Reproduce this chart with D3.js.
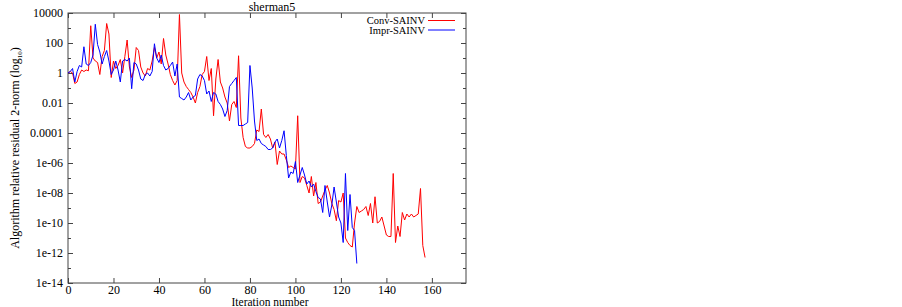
<!DOCTYPE html>
<html>
<head>
<meta charset="utf-8">
<script src="https://cdn.jsdelivr.net/npm/d3@7"></script>
<style>
  body { margin: 0; background: #fff; }
</style>
</head>
<body>
<svg width="902" height="307"></svg>
<script>
// log10 of residual, one value per iteration
const convLog = [
  0, 0.1, 0.0, -0.7, -0.6, -0.1, 0.2, 0.1, 0.2, 0.15,
  3.15, 1.0, 0.8, 0.7, -0.1, 1.1, 1.5, 3.3, 2.6, -0.3,
  0.8, 0.3, 0.5, 0.9, 0.0, 1.1, 2.2, 0.4, -0.3, 0.2,
  1.7, 1.5, 0.4, 0.0, -0.2, 0.3, 0.2, 0.8, 1.7, 1.0,
  1.4, 0.6, 2.3, 1.2, 0.6, -0.1, -0.5, -0.8, -0.5, 3.9,
  0.0, -0.6, -0.9, -1.1, -1.3, -1.6, -2.0, -1.3, -0.9, -0.1,
  0.1, 1.1, -0.5, 0.3, -2.85, -0.4, 0.9, -0.6, -1.0, -1.6,
  -2.0, -3.2, -2.1, -1.9, -2.3, 1.15, -3.0, -4.3, -4.9, -5.0,
  -5.0, -4.9, -4.7, -3.8, -3.9, -2.4, -4.1, -4.3, -4.1, -4.4,
  -5.0, -4.6, -6.1, -5.2, -5.4, -5.4, -5.8, -6.3, -6.2, -6.3,
  -6.4, -2.85, -7.3, -6.9, -7.0, -7.5, -8.0, -6.9, -8.2, -7.3,
  -8.7, -8.6, -8.2, -7.8, -7.5, -8.0, -8.7, -9.1, -9.85, -8.5,
  -8.6, -8.0, -11.0, -11.3, -11.5, -11.6, -10.0, -8.9, -9.3, -9.2,
  -9.1, -8.9, -9.5, -8.7, -10.0, -8.25, -10.0, -9.9, -9.6, -10.2,
  -10.8, -10.9, -10.9, -6.7, -11.3, -10.2, -10.9, -9.3, -9.8, -9.4,
  -9.6, -9.4, -9.6, -9.5, -9.4, -7.7, -11.5, -12.3
];
const imprLog = [
  0, 0.1, 0.3, -0.6, 0.1, 0.5, 0.4, 1.75, 0.6, 0.5,
  0.7, 1.2, 3.25, 1.9, 1.4, 0.6, 1.1, 1.5, 0.8, -0.1,
  0.2, 0.8, 0.2, -0.6, 0.8, 0.9, 0.8, 1.0, -1.05, 0.7,
  0.6, 0.2, -0.4, -0.5, -0.1, 0.0, -0.2, 0.1, 1.95, 1.0,
  0.7, 1.2, 0.5, 0.2, 0.3, 0.5, 0.73, -0.2, 0.6, -1.6,
  -1.7, -1.8, -1.6, -1.3, -1.8, -1.6, -1.5, -0.4, -0.1, -0.2,
  -0.5, -1.4, -1.2, -1.9, -1.3, -1.4, -1.9, -2.1, -2.4, -2.9,
  -2.5, -0.9, -0.7, -0.5, -0.3, -3.5, -3.5, -3.5, -3.4, -3.3,
  0.5, -1.0, -3.2, -4.5, -4.4, -4.7, -4.8, -4.9, -5.1, -5.1,
  -5.0, -4.6, -4.4, -5.0, -4.5, -3.85, -5.5, -7.0, -6.6, -6.7,
  -5.9, -7.3, -6.8, -6.3, -6.8, -7.4, -7.2, -7.6, -7.4, -7.9,
  -8.3, -8.4, -9.3, -7.5, -8.6, -9.6, -8.8, -7.6, -8.6, -9.6,
  -10.0, -11.3, -6.7, -10.5, -8.1, -10.3, -10.5, -12.7
];
const seriesNames = ["Conv-SAINV", "Impr-SAINV"];
const seriesColors = ["#ff0000", "#0000ff"];
const xTicks = [0, 20, 40, 60, 80, 100, 120, 140, 160];
const yTicks = [1e4, 1e2, 1, 1e-2, 1e-4, 1e-6, 1e-8, 1e-10, 1e-12, 1e-14];
const yTickLabels = ["10000", "100", "1", "0.01", "0.0001", "1e-06", "1e-08", "1e-10", "1e-12", "1e-14"];
const yMinorTicks = [1e3, 1e1, 1e-1, 1e-3, 1e-5, 1e-7, 1e-9, 1e-11, 1e-13];

const svg = d3.select("svg");
const mLeft = 68, mRight = 466, mTop = 13, mBottom = 283;
const serif = "'Liberation Serif', 'DejaVu Serif', serif";

const x = d3.scaleLinear().domain([0, 175]).range([mLeft, mRight]);
const y = d3.scaleLog().domain([1e-14, 1e4]).range([mBottom, mTop]);

// axes, gnuplot style: ticks inward, mirrored
const axisColor = "#444";
function styleAxis(g) {
  g.select(".domain").remove();
  g.selectAll("line").attr("stroke", axisColor);
  g.selectAll("text").attr("font-size", 12);
}
svg.append("g").attr("transform", `translate(0,${mBottom})`)
  .call(d3.axisBottom(x).tickValues(xTicks).tickSize(-5).tickPadding(2).tickFormat(d3.format("d")))
  .call(styleAxis);
svg.append("g").attr("transform", `translate(0,${mTop})`)
  .call(d3.axisTop(x).tickValues(xTicks).tickSize(-5).tickFormat(""))
  .call(styleAxis);
svg.append("g").attr("transform", `translate(${mLeft},0)`)
  .call(d3.axisLeft(y).tickValues(yTicks).tickSize(-5).tickPadding(5).tickFormat((d, i) => yTickLabels[i]))
  .call(styleAxis);
svg.append("g").attr("transform", `translate(${mRight},0)`)
  .call(d3.axisRight(y).tickValues(yTicks).tickSize(-5).tickFormat(""))
  .call(styleAxis);
svg.append("g").attr("transform", `translate(${mLeft},0)`)
  .call(d3.axisLeft(y).tickValues(yMinorTicks).tickSize(-3).tickFormat(""))
  .call(styleAxis);
svg.append("g").attr("transform", `translate(${mRight},0)`)
  .call(d3.axisRight(y).tickValues(yMinorTicks).tickSize(-3).tickFormat(""))
  .call(styleAxis);

svg.append("rect")
  .attr("x", mLeft).attr("y", mTop)
  .attr("width", mRight - mLeft).attr("height", mBottom - mTop)
  .attr("fill", "none").attr("stroke", axisColor).attr("stroke-width", 1);

// lines
const line = d3.line()
  .x((d, i) => x(i))
  .y(d => y(Math.pow(10, d)));

[convLog, imprLog].forEach((s, k) => {
  svg.append("path")
    .datum(s)
    .attr("d", line)
    .attr("fill", "none")
    .attr("stroke", seriesColors[k])
    .attr("stroke-width", 1)
    .attr("stroke-linejoin", "round");
});

// title and labels
svg.append("text")
  .attr("x", 272).attr("y", 10.5)
  .attr("text-anchor", "middle").attr("font-size", 12)
  .text("sherman5");

svg.append("text")
  .attr("x", 270).attr("y", 306)
  .attr("text-anchor", "middle").attr("font-size", 11.5)
  .text("Iteration number");

const yl = svg.append("text")
  .attr("transform", `translate(19,${(mTop + mBottom) / 2}) rotate(-90)`)
  .attr("text-anchor", "middle").attr("font-size", 12);
yl.append("tspan").text("Algorithm relative residual 2-norm (log");
yl.append("tspan").attr("font-size", 7).attr("dy", 3).text("10");
yl.append("tspan").attr("dy", -3).text(")");

// legend
seriesNames.forEach((name, k) => {
  const ly = 20.5 + k * 9.5;
  svg.append("text")
    .attr("x", 425).attr("y", ly + 3.5)
    .attr("text-anchor", "end").attr("font-size", 10.5)
    .text(name);
  svg.append("line")
    .attr("x1", 428).attr("x2", 455)
    .attr("y1", ly).attr("y2", ly)
    .attr("stroke", seriesColors[k]).attr("stroke-width", 1);
});

svg.selectAll("text").attr("font-family", serif).attr("fill", "#000");
</script>
</body>
</html>
